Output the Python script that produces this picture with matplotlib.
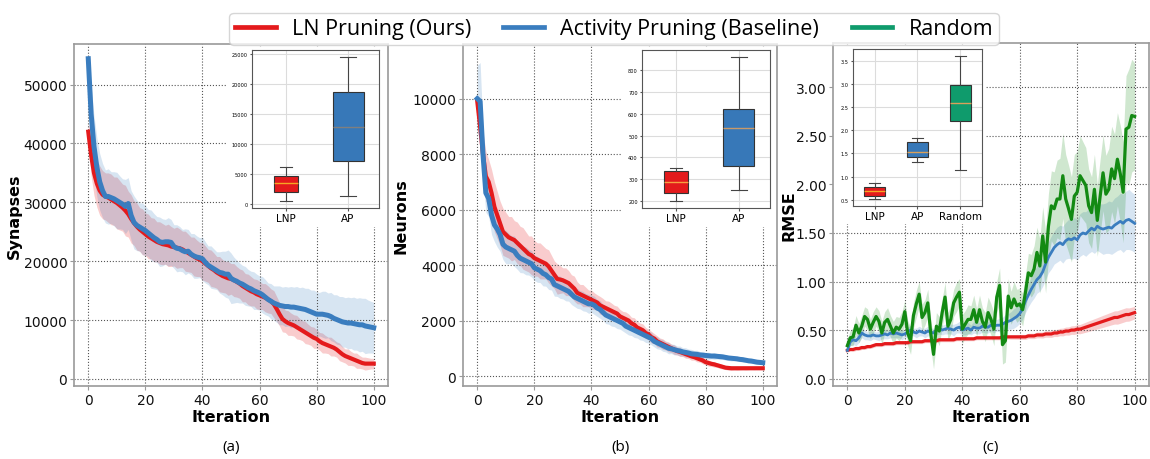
import numpy as np
import matplotlib
matplotlib.use("Agg")
import matplotlib.pyplot as plt
from matplotlib.lines import Line2D
from matplotlib.patches import Rectangle
from matplotlib.font_manager import FontProperties

# ---------------- data ----------------
iters = list(range(101))

syn_lnp = [42000,38000,35000,33200,32000,31300,31000,30800,30500,30200,
           29900,29500,29100,28600,28000,27200,26500,25900,25400,25000,
           24600,24200,23900,23600,23300,23100,22900,22800,22700,22500,
           22400,22300,22200,22000,21700,21400,21100,20800,20500,20300,
           20000,19600,19200,18800,18500,18100,17800,17500,17300,17100,
           17000,16800,16500,16200,15800,15500,15200,14900,14700,14400,
           14200,14000,13800,13500,13200,12700,11900,11000,10200,9800,
           9500,9300,9100,8800,8500,8200,7900,7600,7300,7000,
           6800,6400,6100,5900,5700,5500,5300,5000,4600,4200,
           3900,3700,3500,3300,3100,2900,2700,2600,2600,2600,
           2600]
syn_ap = [54400,45000,39500,36000,33500,32000,31000,31000,30800,30600,
          30300,30000,29700,29300,29800,27800,26600,26100,25800,25500,
          25200,24800,24400,24000,23700,23300,23200,23300,23300,23200,
          22500,22200,22100,21800,21600,21700,21200,20900,20700,20600,
          20400,19800,19300,19000,18700,18400,18100,18000,17800,17800,
          17100,16800,16600,16300,16100,15800,15500,15300,15000,14800,
          14600,14300,13900,13500,13200,12900,12700,12500,12400,12300,
          12300,12200,12200,12100,12000,11900,11800,11600,11400,11200,
          11000,11000,11000,10900,10800,10600,10300,10100,9900,9700,
          9600,9500,9500,9400,9300,9200,9200,9000,8900,8800,
          8700]
syn_lnp_sd = [1500,3500,3800,4000,4200,4100,4000,4200,4300,4100,
              4400,4200,4000,4300,3900,4100,3800,4000,3700,3900,
              3600,3800,3500,3700,3400,3600,3500,3300,3600,3400,
              3200,3500,3300,3100,3400,3200,3000,3300,3100,2900,
              3200,3000,2800,3100,2900,2700,3000,2800,2700,2900,
              2600,2800,2600,2500,2700,2400,2600,2500,2300,2500,
              2400,2200,2400,2300,2100,2300,2100,2000,2200,1900,
              2100,1900,1800,2000,1800,1700,1900,1700,1600,1800,
              1600,1500,1700,1500,1400,1600,1400,1300,1500,1300,
              1200,1400,1200,1100,1300,1100,1000,1100,1000,900,
              900]
syn_ap_sd = [600,5000,5200,5000,4800,4600,4500,4700,4400,4600,
             4800,4500,4300,4600,4400,4200,4500,4300,4100,4400,
             4200,4000,4300,4100,3900,4200,4000,3800,4100,3900,
             3700,4000,3800,3600,3900,3700,3500,3800,3600,3400,
             3700,3500,3300,3600,3400,3200,3500,3700,3900,4100,
             4300,3900,3600,3400,3200,3300,3100,3000,3200,3000,
             2900,3100,3000,2800,3000,2900,3100,3300,3200,3400,
             3300,3500,3400,3600,3500,3700,3600,3800,3700,3900,
             3800,3700,3900,4000,3800,4100,4000,4200,4100,4300,
             4200,4400,4300,4500,4400,4600,4500,4700,4500,4400,
             4300]

neu_lnp = [9900,9000,8000,7200,7000,6600,6100,5800,5500,5200,
           5100,5000,4950,4900,4800,4700,4600,4500,4400,4350,
           4250,4200,4150,4100,4050,3950,3800,3650,3500,3480,
           3450,3400,3350,3250,3150,3000,2950,2900,2850,2800,
           2750,2700,2650,2550,2500,2450,2400,2350,2300,2250,
           2150,2100,2050,2000,1900,1850,1750,1700,1650,1550,
           1500,1400,1350,1250,1200,1150,1100,1050,1000,950,
           900,870,830,790,750,710,680,640,600,560,
           500,470,440,420,390,360,330,300,290,280,
           280,280,280,280,280,280,280,280,280,280,
           280]
neu_ap = [10000,9900,8000,6600,6400,5800,5450,5300,5100,4750,
          4650,4600,4550,4500,4350,4250,4200,4150,4100,4050,
          3900,3850,3800,3700,3650,3550,3500,3300,3250,3200,
          3150,3100,3050,2950,2850,2800,2750,2700,2650,2600,
          2600,2550,2450,2400,2300,2200,2150,2100,2050,2000,
          1950,1900,1800,1750,1700,1650,1600,1550,1500,1450,
          1400,1350,1250,1200,1150,1100,1050,1000,980,950,
          920,900,870,850,830,800,790,780,760,750,
          740,730,720,720,710,700,690,670,650,640,
          630,620,600,590,570,550,540,520,500,490,
          480]
neu_lnp_sd = [200,700,800,900,800,850,900,850,800,850,
              800,750,800,700,750,700,750,700,650,700,
              650,600,650,600,550,600,550,500,550,500,
              450,500,450,400,450,400,350,400,350,300,
              350,300,280,320,300,260,300,280,250,270,
              250,230,260,240,220,250,230,210,230,200,
              190,210,180,200,170,190,160,180,150,170,
              140,160,130,150,120,140,110,130,100,120,
              100,110,90,100,80,90,80,70,80,70,
              60,70,60,50,60,50,40,50,40,40,
              40]
neu_ap_sd = [1200,1400,900,700,650,700,600,650,600,550,
             600,550,500,550,500,520,480,500,460,480,
             450,470,430,450,410,430,400,420,380,400,
             370,390,350,370,340,360,330,350,320,340,
             310,330,300,320,290,310,280,300,270,290,
             260,280,250,270,240,260,230,250,220,240,
             210,230,200,220,190,210,180,200,170,190,
             160,180,150,170,140,160,130,150,120,140,
             110,130,100,120,100,110,90,100,90,100,
             80,90,80,90,70,80,70,80,70,70,
             60]

rmse_lnp = [0.29,0.30,0.30,0.31,0.31,0.32,0.32,0.33,0.33,0.34,
            0.35,0.35,0.35,0.36,0.36,0.36,0.36,0.37,0.37,0.37,
            0.37,0.37,0.38,0.38,0.38,0.38,0.38,0.39,0.39,0.39,
            0.39,0.39,0.40,0.40,0.40,0.40,0.40,0.40,0.41,0.41,
            0.41,0.41,0.41,0.41,0.41,0.42,0.42,0.42,0.42,0.42,
            0.42,0.42,0.42,0.42,0.43,0.43,0.43,0.43,0.43,0.43,
            0.43,0.43,0.43,0.44,0.44,0.44,0.45,0.45,0.45,0.46,
            0.46,0.46,0.47,0.47,0.48,0.48,0.49,0.49,0.50,0.50,
            0.51,0.51,0.52,0.53,0.54,0.55,0.56,0.57,0.58,0.59,
            0.60,0.61,0.62,0.63,0.63,0.64,0.65,0.66,0.66,0.67,
            0.68]
rmse_ap = [0.29,0.38,0.40,0.39,0.42,0.47,0.45,0.44,0.44,0.45,
           0.44,0.44,0.45,0.46,0.45,0.47,0.46,0.47,0.46,0.45,
           0.46,0.48,0.50,0.48,0.47,0.49,0.48,0.47,0.49,0.48,
           0.47,0.50,0.52,0.50,0.51,0.52,0.51,0.50,0.52,0.53,
           0.50,0.51,0.52,0.50,0.53,0.52,0.52,0.54,0.53,0.53,
           0.55,0.54,0.55,0.55,0.56,0.58,0.59,0.60,0.62,0.64,
           0.67,0.72,0.80,0.86,0.92,0.97,1.02,1.05,1.10,1.18,
           1.25,1.30,1.35,1.38,1.40,1.38,1.42,1.44,1.43,1.45,
           1.43,1.48,1.50,1.49,1.52,1.55,1.53,1.57,1.55,1.54,
           1.55,1.56,1.55,1.58,1.60,1.62,1.60,1.63,1.64,1.62,
           1.60]
rmse_rand = [0.34,0.42,0.43,0.55,0.47,0.54,0.64,0.61,0.51,0.58,
             0.64,0.59,0.47,0.58,0.61,0.54,0.47,0.53,0.51,0.56,
             0.69,0.47,0.39,0.65,0.77,0.87,0.63,0.68,0.78,0.47,
             0.25,0.54,0.49,0.68,0.84,0.54,0.61,0.78,0.84,0.89,
             0.51,0.56,0.61,0.61,0.71,0.58,0.71,0.59,0.53,0.68,
             0.61,0.51,0.84,0.96,0.35,0.39,0.85,0.73,0.82,0.75,
             0.77,0.71,0.89,1.09,1.06,1.13,1.30,1.16,1.47,1.20,
             1.57,1.78,1.75,1.85,1.85,2.09,1.85,1.75,1.64,1.88,
             1.92,2.09,2.04,1.99,1.78,1.71,1.95,1.63,1.88,2.12,
             1.90,1.95,2.16,2.06,2.26,2.11,1.92,2.57,2.59,2.71,
             2.70]
rmse_lnp_sd = [0.010,0.015,0.020,0.020,0.020,0.020,0.020,0.020,0.020,0.020,
               0.020,0.020,0.020,0.020,0.020,0.020,0.020,0.020,0.020,0.020,
               0.020,0.020,0.020,0.020,0.020,0.020,0.020,0.020,0.020,0.020,
               0.020,0.020,0.020,0.020,0.020,0.020,0.020,0.020,0.020,0.020,
               0.020,0.020,0.020,0.020,0.020,0.020,0.020,0.020,0.020,0.020,
               0.020,0.020,0.020,0.020,0.020,0.022,0.022,0.024,0.024,0.025,
               0.025,0.026,0.026,0.027,0.028,0.028,0.030,0.030,0.032,0.033,
               0.034,0.035,0.036,0.037,0.038,0.040,0.041,0.042,0.044,0.045,
               0.046,0.048,0.050,0.052,0.054,0.055,0.057,0.058,0.060,0.062,
               0.063,0.065,0.066,0.068,0.069,0.070,0.070,0.070,0.068,0.066,
               0.065]
rmse_ap_sd = [0.02,0.04,0.05,0.05,0.05,0.05,0.05,0.04,0.05,0.04,
              0.04,0.05,0.04,0.05,0.04,0.05,0.04,0.05,0.04,0.05,
              0.04,0.05,0.05,0.04,0.05,0.05,0.04,0.05,0.05,0.04,
              0.05,0.05,0.06,0.05,0.05,0.06,0.05,0.06,0.05,0.06,
              0.05,0.06,0.06,0.05,0.06,0.06,0.06,0.06,0.06,0.06,
              0.06,0.07,0.06,0.07,0.07,0.08,0.08,0.09,0.10,0.10,
              0.10,0.11,0.12,0.12,0.13,0.14,0.14,0.15,0.15,0.16,
              0.16,0.17,0.17,0.18,0.18,0.19,0.19,0.20,0.20,0.21,
              0.21,0.22,0.22,0.23,0.23,0.24,0.24,0.25,0.25,0.26,
              0.26,0.27,0.27,0.28,0.28,0.29,0.30,0.30,0.31,0.30,
              0.30]
rmse_rand_sd = [0.06,0.08,0.09,0.10,0.10,0.11,0.10,0.11,0.10,0.11,
                0.10,0.11,0.12,0.11,0.12,0.11,0.12,0.11,0.12,0.13,
                0.12,0.13,0.14,0.13,0.14,0.13,0.14,0.13,0.14,0.15,
                0.15,0.14,0.15,0.14,0.15,0.14,0.15,0.14,0.15,0.14,
                0.15,0.14,0.15,0.14,0.15,0.14,0.15,0.14,0.15,0.16,
                0.16,0.17,0.16,0.18,0.20,0.22,0.18,0.17,0.18,0.17,
                0.16,0.17,0.18,0.20,0.22,0.24,0.26,0.28,0.30,0.32,
                0.34,0.36,0.38,0.40,0.42,0.44,0.46,0.45,0.44,0.43,
                0.42,0.41,0.40,0.39,0.38,0.37,0.36,0.37,0.38,0.39,
                0.40,0.42,0.44,0.46,0.48,0.50,0.52,0.55,0.60,0.58,
                0.55]

# box-plot summary statistics (whisker low, Q1, median, Q3, whisker high)
box_labels_2 = ["LNP", "AP"]
box_labels_3 = ["LNP", "AP", "Random"]
syn_box = [(600, 2000, 3500, 4800, 6200), (1400, 7200, 12900, 18700, 24500)]
neu_box = [(200, 235, 285, 335, 350), (250, 358, 533, 622, 860)]
rmse_box = [(0.52, 0.59, 0.69, 0.77, 0.87), (1.32, 1.42, 1.54, 1.75, 1.84),
            (1.15, 2.21, 2.59, 2.97, 3.60)]

legend_labels = ["LN Pruning (Ours)", "Activity Pruning (Baseline)", "Random"]
rmse_tick_labels = ["0.0", "0.50", "1.00", "1.50", "2.00", "2.50", "3.00"]

# ---------------- style ----------------
RED = "#e41a1c"
BLUE = "#3a7dbf"
GREEN_LINE = "#138a13"
GREEN_BOX = "#0f9b6c"
BOX_RED = "#e31a1c"
BOX_BLUE = "#3778b8"

W, H = 1150, 460
fig = plt.figure(figsize=(W / 100, H / 100), dpi=100)


def fig_rect(l, t, r, b):
    return [l / W, 1 - b / H, (r - l) / W, (b - t) / H]


def style_main(ax):
    ax.grid(True, linestyle=":", color="#555555", linewidth=0.8)
    for s in ax.spines.values():
        s.set_color("#9a9a9a")
        s.set_linewidth(1.2)
        s.set_zorder(6)
    ax.tick_params(labelsize=10, color="#9a9a9a", length=3, pad=1.8,
                   labelcolor="#111111")
    ax.set_xlabel("Iteration", fontsize=11.5, fontweight="bold")
    ax.xaxis.set_label_coords(0.5, -0.066)
    ax.set_xlim(-5, 105)
    ax.set_xticks([0, 20, 40, 60, 80, 100])


def cover(ax, x0, y0, x1, y1):
    ax.add_patch(Rectangle((x0, y0), x1 - x0, y1 - y0, transform=ax.transAxes,
                           facecolor="white", edgecolor="none", zorder=5))


def style_inset(ax):
    ax.set_facecolor("white")
    ax.grid(True, linestyle="-", color="#dcdcdc", linewidth=0.8)
    ax.set_axisbelow(True)
    for s in ax.spines.values():
        s.set_color("#555555")
        s.set_linewidth(0.8)
    ax.tick_params(axis="y", labelsize=3.6, length=1.5, pad=1.5, color="#555555")
    ax.tick_params(axis="x", labelsize=7.5, length=2, pad=1.5, color="#555555")


def draw_box(ax, stats, labels, colors, medcolors, widths, positions):
    bxp = []
    for st, lab in zip(stats, labels):
        bxp.append(dict(whislo=st[0], q1=st[1], med=st[2], q3=st[3], whishi=st[4],
                        fliers=[], label=lab))
    res = ax.bxp(bxp, positions=positions, widths=widths, patch_artist=True,
                 showfliers=False,
                 boxprops=dict(edgecolor="#333333", linewidth=0.8),
                 whiskerprops=dict(color="#444444", linewidth=0.8),
                 capprops=dict(color="#444444", linewidth=0.8),
                 medianprops=dict(linewidth=1.0))
    for patch, c in zip(res["boxes"], colors):
        patch.set_facecolor(c)
    for med, c in zip(res["medians"], medcolors):
        med.set_color(c)
    return res


x = np.array(iters)

# ---------------- (a) Synapses ----------------
axA = fig.add_axes(fig_rect(74, 45, 388, 387))
m, s = np.array(syn_lnp), np.array(syn_lnp_sd)
axA.fill_between(x, m - s, m + s, color=RED, alpha=0.22, linewidth=0)
m2, s2 = np.array(syn_ap), np.array(syn_ap_sd)
axA.fill_between(x, m2 - s2, m2 + s2, color=BLUE, alpha=0.2, linewidth=0)
axA.plot(x, m, color=RED, linewidth=3.0)
axA.plot(x, m2, color=BLUE, linewidth=3.6)
style_main(axA)
axA.set_ylim(-1200, 56900)
axA.set_yticks([0, 10000, 20000, 30000, 40000, 50000])
axA.set_ylabel("Synapses", fontsize=11.5, fontweight="bold")
axA.yaxis.set_label_coords(-0.166, 0.5)
cover(axA, 0.487, 0.465, 1.0, 0.992)

inA = fig.add_axes(fig_rect(252, 51, 379, 209))
style_inset(inA)
draw_box(inA, syn_box, box_labels_2, [BOX_RED, BOX_BLUE], ["#f5a623", "#7f7f7f"],
         [0.38, 0.5], [1, 2])
inA.set_xlim(0.45, 2.5)
inA.set_yticks([0, 5000, 10000, 15000, 20000, 25000])

# ---------------- (b) Neurons ----------------
axB = fig.add_axes(fig_rect(463, 45, 777, 387))
m, s = np.array(neu_lnp), np.array(neu_lnp_sd)
axB.fill_between(x, m - s, m + s, color=RED, alpha=0.22, linewidth=0)
m2, s2 = np.array(neu_ap), np.array(neu_ap_sd)
axB.fill_between(x, m2 - s2, m2 + s2, color=BLUE, alpha=0.2, linewidth=0)
axB.plot(x, m, color=RED, linewidth=3.0)
axB.plot(x, m2, color=BLUE, linewidth=3.6)
style_main(axB)
axB.set_ylim(-360, 11970)
axB.set_yticks([0, 2000, 4000, 6000, 8000, 10000])
axB.set_ylabel("Neurons", fontsize=11.5, fontweight="bold")
axB.yaxis.set_label_coords(-0.172, 0.5)
cover(axB, 0.507, 0.465, 1.0, 0.992)

inB = fig.add_axes(fig_rect(642, 51, 770, 209))
style_inset(inB)
draw_box(inB, neu_box, box_labels_2, [BOX_RED, BOX_BLUE], ["#f5a040", "#c89a6a"],
         [0.38, 0.5], [1, 2])
inB.set_xlim(0.45, 2.5)
inB.set_yticks([200, 300, 400, 500, 600, 700, 800])

# ---------------- (c) RMSE ----------------
axC = fig.add_axes(fig_rect(833, 44, 1149, 387))
for mm, ss, c, a in [(rmse_lnp, rmse_lnp_sd, RED, 0.22),
                     (rmse_ap, rmse_ap_sd, BLUE, 0.2),
                     (rmse_rand, rmse_rand_sd, GREEN_LINE, 0.2)]:
    mm, ss = np.array(mm), np.array(ss)
    axC.fill_between(x, mm - ss, mm + ss, color=c, alpha=a, linewidth=0)
for mm, c, lw in [(rmse_lnp, RED, 2.3), (rmse_ap, BLUE, 2.0), (rmse_rand, GREEN_LINE, 2.3)]:
    axC.plot(x, mm, color=c, linewidth=lw)
style_main(axC)
axC.set_ylim(-0.076, 3.457)
axC.set_yticks([0, 0.5, 1.0, 1.5, 2.0, 2.5, 3.0])
axC.set_yticklabels(rmse_tick_labels)
axC.set_ylabel("RMSE", fontsize=11.5, fontweight="bold")
axC.yaxis.set_label_coords(-0.114, 0.5)
cover(axC, 0.0, 0.472, 0.483, 0.992)

inC = fig.add_axes(fig_rect(853, 50, 982, 207))
style_inset(inC)
draw_box(inC, rmse_box, box_labels_3, [BOX_RED, BOX_BLUE, GREEN_BOX],
         ["#f5a623", "#d9a05a", "#d9a05a"], [0.5, 0.5, 0.5], [1, 2, 3])
inC.set_xlim(0.5, 3.5)
inC.set_yticks([0.5, 1.0, 1.5, 2.0, 2.5, 3.0, 3.5])

# ---------------- legend & captions ----------------
handles = [Line2D([], [], color=RED, linewidth=3.4),
           Line2D([], [], color=BLUE, linewidth=3.4),
           Line2D([], [], color=GREEN_BOX, linewidth=3.4)]
leg = fig.legend(handles, legend_labels, loc="upper center",
                 bbox_to_anchor=(614 / W, 1 - 3 / H), ncol=3,
                 prop=FontProperties(family="Open Sans", size=15.5),
                 frameon=True, fancybox=True, edgecolor="#cccccc",
                 handlelength=1.9, columnspacing=1.5, handletextpad=0.75,
                 borderpad=0.25)

for cx, lab in [(231, "(a)"), (620, "(b)"), (991, "(c)")]:
    fig.text(cx / W, 1 - 448 / H, lab, ha="center", va="center",
             fontsize=11, family="Open Sans")

fig.savefig("out.png", dpi=100)
